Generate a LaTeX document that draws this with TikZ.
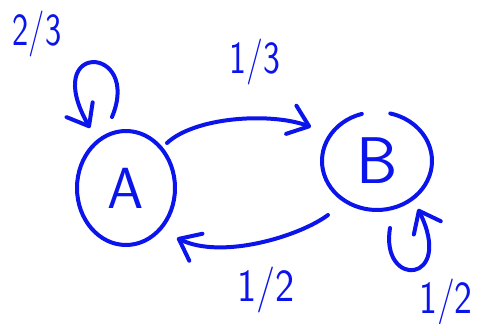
\documentclass[tikz,border=0pt]{standalone}
\usetikzlibrary{arrows.meta,shapes.geometric,calc}
\definecolor{ink}{RGB}{10,20,235}
\begin{document}
\begin{tikzpicture}[x=1pt,y=1pt,
  pen/.style={draw=ink,line width=4pt,line cap=round,line join=round},
  tip/.style={-{Straight Barb[length=19pt,width=30pt,round]}},
  state/.style={ellipse,inner sep=0pt,text=ink},
  prob/.style={text=ink,inner sep=0pt,font=\sffamily\fontsize{46}{48}\selectfont}]
\useasboundingbox (0,0) rectangle (477,324);

% states
\node[state,pen,minimum width=98pt,minimum height=114pt,
      font=\sffamily\fontsize{58}{60}\selectfont] (A) at (126,136) {A};
\node[state,minimum width=110pt,minimum height=98pt,
      font=\sffamily\fontsize{66}{68}\selectfont] (B) at (377,163) {B};
% outline of B, left open at the top
\draw[pen] ($(B.center)+(106:55 and 49)$)
  arc[start angle=106,end angle=436,x radius=55,y radius=49];

% transitions between the states
\draw[pen,tip] ($(A.center)+(41,45)$) .. controls +(28,26) and +(-41,15) .. ($(B.center)+(-66,34)$);
\draw[pen,tip] ($(B.center)+(-49,-54)$) .. controls +(-28,-21) and +(45,-22) .. ($(A.center)+(51,-50)$);

% self loops
\draw[pen,tip] ($(A.center)+(-14,71)$) .. controls +(30,72) and +(-50,88) .. ($(A.center)+(-36,60)$);
\draw[pen,tip] ($(B.center)+(13,-67)$) .. controls +(-10,-61) and +(37,-75) .. ($(B.center)+(41,-48)$);

% transition probabilities
\node[prob] (pAA) at (37,290) {\scalebox{0.75}[1]{2/3}};
\node[prob] (pAB) at (255,262) {\scalebox{0.78}[1]{1/3}};
\node[prob] (pBA) at (266,34) {\scalebox{0.88}[1]{1/2}};
\node[prob] (pBB) at (446,22) {\scalebox{0.82}[1]{1/2}};
\end{tikzpicture}
\end{document}
